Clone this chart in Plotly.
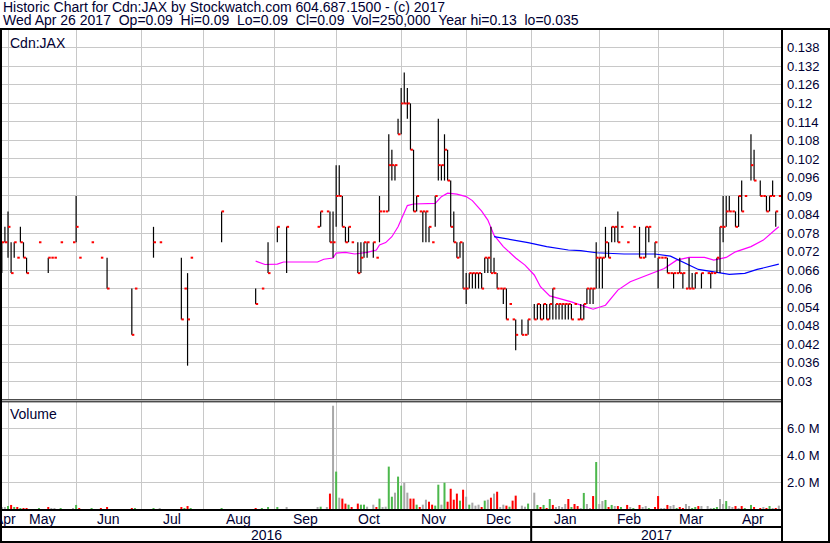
import plotly.graph_objects as go

# ---------------- text ----------------
title_line1 = "Historic Chart for Cdn:JAX by Stockwatch.com 604.687.1500 - (c) 2017"
title_line2 = ("Wed Apr 26 2017\u00a0\u00a0Op=0.09\u00a0\u00a0Hi=0.09\u00a0\u00a0Lo=0.09\u00a0\u00a0"
               "Cl=0.09\u00a0\u00a0Vol=250,000\u00a0\u00a0Year hi=0.13\u00a0\u00a0lo=0.035")
symbol_label = "Cdn:JAX"
volume_label = "Volume"

# ---------------- calendar (trading-day categories) ----------------
months = ["Apr", "May", "Jun", "Jul", "Aug", "Sep", "Oct", "Nov", "Dec", "Jan", "Feb", "Mar", "Apr"]
month_days = [2, 22, 21, 20, 23, 20, 21, 21, 21, 22, 19, 21, 19]
years = ["2016", "2017"]
year_month_count = [9, 4]

price_ticks = ["0.03", "0.036", "0.042", "0.048", "0.054", "0.06", "0.066", "0.072", "0.078",
               "0.084", "0.09", "0.096", "0.102", "0.108", "0.114", "0.12", "0.126", "0.132", "0.138"]
volume_ticks = ["2.0 M", "4.0 M", "6.0 M"]
volume_tick_values = [2, 4, 6]

N = None
# ---------------- daily price data (one entry per trading day) ----------------
high = [
    .075, .08, .085, .075, .075, .07, .08, .075, .07, N,
    N, N, .075, N, N, .07, .07, .07, N, .075,
    N, N, N, .075, .09, .07, N, N, N, .075,
    N, N, .07, N, .07, N, N, N, N, N,
    N, N, .06, .06, N, N, N, N, N, .08,
    N, .075, N, N, N, N, N, N, .07, .06,
    .065, .07, N, N, N, N, N, N, N, N,
    N, .085, N, N, N, N, N, N, N, N,
    N, N, .06, N, .06, N, .075, N, N, .08,
    N, N, .08, N, N, N, N, N, N, N,
    N, N, .08, .085, N, .085, .085, .085, .10, .10,
    .09, .08, .08, .075, N, .075, .075, .075, .075, N,
    .075, .07, .09, .085, .085, .11, .105, .10, .115, .125,
    .13, .125, .12, .105, .09, .085, .085, .085, .08, .075,
    .09, .115, .10, .11, .105, .095, .085, .075, .075, .075,
    .065, .065, .065, .065, .065, .065, .07, .07, .08, .07,
    .065, .06, .06, .06, .055, .05, .05, N, .05, .045,
    .05, N, .055, .055, .055, .055, .055, .055, .06, .055,
    .055, .055, .055, .055, .055, .055, .05, .055, .055, .06,
    .06, .06, .075, .07, .07, .08, .075, .08, .08, .085,
    .08, N, .075, N, .08, N, .08, .07, .08, .08,
    N, .075, .07, .07, .07, .07, .065, .065, .065, .07,
    .065, .06, .07, .065, .065, N, .065, N, .065, .065,
    .065, .07, .08, .09, .09, .09, .085, .085, .09, .095,
    .09, N, .11, .105, N, .095, .09, .09, .09, .095,
    .085, .09,
]
low = [
    .065, .075, .07, .065, .07, .07, .075, .07, .065, N,
    N, N, .075, N, N, .065, .07, .07, N, .075,
    N, N, N, .075, .075, .07, N, N, N, .075,
    N, N, .07, N, .06, N, N, N, N, N,
    N, N, .045, .06, N, N, N, N, N, .07,
    N, .075, N, N, N, N, N, N, .05, .06,
    .035, .07, N, N, N, N, N, N, N, N,
    N, .075, N, N, N, N, N, N, N, N,
    N, N, .055, N, .06, N, .065, N, N, .075,
    N, N, .065, N, N, N, N, N, N, N,
    N, N, .08, .08, N, .085, .075, .07, .08, .09,
    .08, .075, .075, .075, N, .065, .065, .07, .07, N,
    .07, .07, .075, .085, .085, .085, .095, .095, .11, .11,
    .12, .115, .105, .085, .085, .085, .075, .075, .075, .075,
    .08, .095, .095, .095, .095, .08, .075, .07, .07, .06,
    .055, .06, .06, .06, .06, .06, .065, .065, .065, .065,
    .06, .06, .055, .05, .055, .05, .04, N, .045, .045,
    .045, N, .05, .05, .05, .05, .05, .05, .05, .05,
    .05, .05, .05, .05, .05, .055, .05, .05, .05, .055,
    .055, .055, .06, .06, .06, .07, .07, .075, .075, .075,
    .08, N, .075, N, .08, N, .07, .07, .07, .075,
    N, .07, .06, .07, .07, .065, .065, .06, .065, .065,
    .06, .06, .06, .06, .06, N, .06, N, .065, .06,
    .065, .065, .065, .075, .08, .085, .085, .08, .08, .085,
    .09, N, .095, .095, N, .09, .09, .085, .085, .09,
    .08, .09,
]
close = [
    .075, .075, .08, .065, .075, .07, .075, .07, .065, N,
    N, N, .075, N, N, .07, .07, .07, N, .075,
    N, N, N, .075, .08, .07, N, N, N, .075,
    N, N, .07, N, .06, N, N, N, N, N,
    N, N, .045, .06, N, N, N, N, N, .075,
    N, .075, N, N, N, N, N, N, .05, .06,
    .05, .07, N, N, N, N, N, N, N, N,
    N, .085, N, N, N, N, N, N, N, N,
    N, N, .055, N, .06, N, .065, N, N, .08,
    N, N, .08, N, N, N, N, N, N, N,
    N, N, .08, .085, N, .085, .075, .075, .09, .09,
    .08, .075, .08, .075, N, .065, .07, .075, .075, N,
    .075, .07, .085, .085, .085, .10, .10, .10, .11, .12,
    .12, .12, .105, .085, .09, .085, .085, .085, .08, .075,
    .09, .10, .10, .105, .095, .08, .075, .07, .075, .06,
    .06, .065, .065, .065, .065, .06, .07, .07, .065, .065,
    .06, .06, .06, .05, .055, .05, .045, N, .045, .045,
    .05, N, .05, .055, .05, .055, .05, .055, .06, .055,
    .055, .055, .055, .055, .05, .055, .05, .05, .055, .06,
    .06, .06, .07, .07, .07, .075, .07, .08, .08, .075,
    .08, N, .075, N, .08, N, .07, .07, .08, .08,
    N, .075, .07, .07, .07, .065, .065, .065, .065, .065,
    .065, .06, .06, .06, .065, N, .065, N, .065, .065,
    .065, .07, .08, .08, .085, .085, .085, .08, .09, .085,
    .09, N, .10, .095, N, .09, .09, .085, .09, .09,
    .085, .09,
]
# daily volume in millions of shares
volume_m = [
    .10, .10, .22, .30, .15, .15, .07, .07, .07, N,
    N, N, .07, N, N, .15, .07, .07, N, .07,
    N, N, N, .07, .30, .07, N, N, N, .07,
    N, N, .07, N, .15, N, N, N, N, N,
    N, N, .07, .07, N, N, N, N, N, .07,
    N, .07, N, N, N, N, N, N, .15, .07,
    .22, .07, N, N, N, N, N, N, N, N,
    N, .07, N, N, N, N, N, N, N, N,
    N, N, .07, N, .07, N, .15, N, N, .10,
    N, N, .10, N, N, N, N, N, N, N,
    N, N, .10, .17, N, .10, 1.14, 7.65, 2.77, .84,
    .77, .40, .32, .10, N, .40, .32, .32, .17, N,
    .32, .10, .77, .10, .17, 3.14, .91, 1.21, 2.40, 1.73,
    1.95, 1.21, .77, .77, .32, .10, .32, .69, .54, .32,
    .25, 1.80, .32, 1.95, .54, 1.50, .69, 1.14, .62, 1.43,
    .91, .32, .47, .25, .32, .10, .62, .69, .84, 1.14,
    1.28, .10, .32, .25, .17, .62, .99, N, .25, .17,
    .40, N, 1.21, .30, .15, .30, .07, .74, .30, .15,
    .22, .15, .37, .74, .15, .37, .22, .07, 1.19, .37,
    .07, .96, 3.48, .37, .59, .67, .15, .30, .22, .22,
    .15, N, .30, .15, .07, N, .30, .15, .22, .07,
    N, .15, .96, .07, .07, .30, .22, .30, .07, .15,
    .07, .37, .22, .07, .15, .22, .22, N, .22, .07,
    .07, .15, .74, .37, .59, .22, .15, .22, .07, .22,
    .07, N, .30, .15, N, .07, .15, .07, .22, .07,
    .07, .25,
]
# volume bar colour code: u = up, d = down, n = unchanged, . = no trade
vol_trend = (
    "nnudududd." "..u..dnn.u" "...nud...u" "..d.d....." "..du.....u"
    ".n......du" "du........" ".u........" "..d.u.u..u" "..n......."
    "..nu.ndnun" "ddud.duun." "ndunnuunuu" "nnddudnndd" "uunuddddud"
    "nunnndundn" "dnndudd.nn" "u.nudududn" "nnnduddnun" "ndunnudund"
    "u.dnu.dnnu" ".ddnndnnud" "dnnuud.nnn" "uunnunndnd" "u.ud.dndun"
    "dn"
)

# moving averages (day index, price)
ma_short_day = [82, 85, 89, 91, 102, 104, 107, 108, 111, 114, 118, 121, 122, 124, 126, 128,
                131, 133, 140, 142, 144, 147, 150, 152, 155, 157, 159, 162, 166, 169, 172, 174,
                177, 184, 188, 191, 195, 199, 203, 207, 214, 218, 222, 227, 230, 234, 237, 242,
                246, 250, 251]
ma_short_val = [.0689, .0678, .0679, .0686, .0686, .0695, .0699, .0715, .0717, .0712, .0717,
                .0725, .0741, .0749, .0768, .0800, .0869, .0874, .0876, .0898, .0909, .0906,
                .0898, .0885, .0851, .0822, .0773, .0736, .0699, .0676, .0644, .0606, .0576,
                .0557, .0543, .0533, .0546, .0595, .0622, .0638, .0665, .0692, .0701, .0701,
                .0692, .0701, .0719, .0736, .0757, .0792, .0800]
ma_long_day = [159, 163, 170, 176, 183, 187, 192, 201, 211, 216, 220, 225, 230, 235, 240, 244, 251]
ma_long_val = [.0768, .0761, .0749, .0736, .0725, .0723, .0716, .0712, .0712, .0705, .0687,
               .0662, .0654, .0646, .0649, .0662, .0679]

# ---------------- styling ----------------
FONT = "Liberation Sans, Arial, sans-serif"
TXT = "#000033"
GRID = "#c8c8c8"
W, H = 830, 543
PL, PR, PT, PB = 2, 781, 30, 509          # plot area in pixels
trend_colors = {"u": "#4cb84c", "d": "#ff0000", "n": "#a8a8a8"}


def xp(px):
    return (px - PL) / (PR - PL)


def yp(py):
    return (PB - py) / (PB - PT)


days = list(range(len(close)))
month_start = []
s = 0
for d in month_days:
    month_start.append(s)
    s += d
month_end = month_start[1:] + [s]

# high-low vertical strokes
vx, vy = [], []
for i, (h, l) in enumerate(zip(high, low)):
    if h is not None and h > l:
        vx += [i, i, None]
        vy += [l, h, None]
# close ticks
cx, cy = [], []
for i, c in enumerate(close):
    if c is not None:
        cx += [i, i + 0.8, None]
        cy += [c, c, None]

vol_x = [i for i in days if volume_m[i] is not None]
vol_y = [volume_m[i] for i in vol_x]
vol_c = [trend_colors.get(vol_trend[i], "#a8a8a8") for i in vol_x]

fig = go.Figure()
fig.add_trace(go.Scatter(x=ma_short_day, y=ma_short_val, mode="lines",
                         line=dict(color="#ff00ff", width=1.2), hoverinfo="skip"))
fig.add_trace(go.Scatter(x=ma_long_day, y=ma_long_val, mode="lines",
                         line=dict(color="#0000ff", width=1.2), hoverinfo="skip"))
fig.add_trace(go.Scatter(x=vx, y=vy, mode="lines", line=dict(color="#000000", width=1.2),
                         hoverinfo="skip"))
fig.add_trace(go.Scatter(x=cx, y=cy, mode="lines", line=dict(color="#ff0000", width=2),
                         hoverinfo="skip"))
fig.add_trace(go.Bar(x=vol_x, y=vol_y, width=0.65, marker=dict(color=vol_c, line=dict(width=0)),
                     xaxis="x2", yaxis="y2", hoverinfo="skip"))

xr = [0.06, 251.7]
axis_common = dict(range=xr, showgrid=True, gridcolor=GRID, gridwidth=1, zeroline=False,
                   showline=False, tickmode="array", tickvals=month_start[1:], showticklabels=False,
                   ticks="")
fig.update_layout(
    width=W, height=H,
    margin=dict(l=PL, r=W - PR, t=PT, b=H - PB, pad=0),
    paper_bgcolor="white", plot_bgcolor="white",
    showlegend=False,
    font=dict(family=FONT, size=13, color=TXT),
    xaxis=dict(domain=[0, 1], anchor="y", **axis_common),
    xaxis2=dict(domain=[0, 1], anchor="y2", matches="x", **axis_common),
    yaxis=dict(domain=[yp(399), 1], range=[0.0242, 0.1438], side="right",
               tickmode="array", tickvals=[float(t) for t in price_ticks], ticktext=price_ticks,
               showgrid=True, gridcolor=GRID, gridwidth=1, zeroline=False, showline=False,
               ticks="", ticklabelstandoff=5, tickfont=dict(family=FONT, size=13, color=TXT)),
    yaxis2=dict(domain=[0, yp(402)], range=[0, 107 / 13.5], side="right",
                tickmode="array", tickvals=volume_tick_values, ticktext=volume_ticks,
                showgrid=True, gridcolor=GRID, gridwidth=1, zeroline=False, showline=False,
                ticks="", ticklabelstandoff=5, tickfont=dict(family=FONT, size=13, color=TXT)),
)

ann = []
ann.append(dict(text=title_line1, x=xp(0.5), y=yp(7), xref="paper", yref="paper",
                xanchor="left", yanchor="middle", showarrow=False, font=dict(size=14)))
ann.append(dict(text=title_line2, x=xp(0.5), y=yp(20.5), xref="paper", yref="paper",
                xanchor="left", yanchor="middle", showarrow=False, font=dict(size=14)))
ann.append(dict(text=symbol_label, x=xp(7.5), y=yp(42.5), xref="paper", yref="paper",
                xanchor="left", yanchor="middle", showarrow=False, font=dict(size=14)))
ann.append(dict(text=volume_label, x=xp(7.5), y=yp(413.5), xref="paper", yref="paper",
                xanchor="left", yanchor="middle", showarrow=False, font=dict(size=14)))
for m, a, b in zip(months, month_start, month_end):
    ann.append(dict(text=m, x=(a + b) / 2, y=yp(518.5), xref="x", yref="paper",
                    xanchor="center", yanchor="middle", showarrow=False, font=dict(size=14)))
yi = 0
year_bounds = []
for yname, cnt in zip(years, year_month_count):
    a = month_start[yi]
    b = month_end[yi + cnt - 1]
    year_bounds.append((a, b))
    ann.append(dict(text=yname, x=(a + b) / 2, y=yp(535), xref="x", yref="paper",
                    xanchor="center", yanchor="middle", showarrow=False, font=dict(size=14)))
    yi += cnt
fig.update_layout(annotations=ann)

BLK = "#000000"
shapes = [
    # outer frame
    dict(type="line", xref="paper", yref="paper", x0=xp(0), x1=xp(W), y0=yp(29), y1=yp(29),
         line=dict(color=BLK, width=2)),
    dict(type="line", xref="paper", yref="paper", x0=xp(1), x1=xp(1), y0=yp(28), y1=yp(H),
         line=dict(color=BLK, width=2)),
    dict(type="line", xref="paper", yref="paper", x0=xp(829), x1=xp(829), y0=yp(28), y1=yp(H),
         line=dict(color=BLK, width=2)),
    dict(type="line", xref="paper", yref="paper", x0=xp(0), x1=xp(W), y0=yp(542), y1=yp(542),
         line=dict(color=BLK, width=2)),
    # right axis line
    dict(type="line", xref="paper", yref="paper", x0=xp(782), x1=xp(782), y0=yp(28), y1=yp(H),
         line=dict(color=BLK, width=2)),
    # price / volume divider (double line)
    dict(type="line", xref="paper", yref="paper", x0=xp(0), x1=xp(782), y0=yp(399.8), y1=yp(399.8),
         line=dict(color=BLK, width=1)),
    dict(type="line", xref="paper", yref="paper", x0=xp(0), x1=xp(782), y0=yp(401.8), y1=yp(401.8),
         line=dict(color=BLK, width=1)),
    # time axis lines
    dict(type="line", xref="paper", yref="paper", x0=xp(0), x1=xp(782), y0=yp(510), y1=yp(510),
         line=dict(color=BLK, width=2)),
    dict(type="line", xref="paper", yref="paper", x0=xp(0), x1=xp(782), y0=yp(527), y1=yp(527),
         line=dict(color=BLK, width=2)),
]
# year separator
for a, b in year_bounds[1:]:
    shapes.append(dict(type="line", xref="x", yref="paper", x0=a, x1=a, y0=yp(510), y1=yp(542),
                       line=dict(color=BLK, width=2)))
fig.update_layout(shapes=shapes)

fig.write_html("out.html", config={"displayModeBar": False},
               post_script="document.body.style.margin='0px';document.body.style.overflow='hidden';")
